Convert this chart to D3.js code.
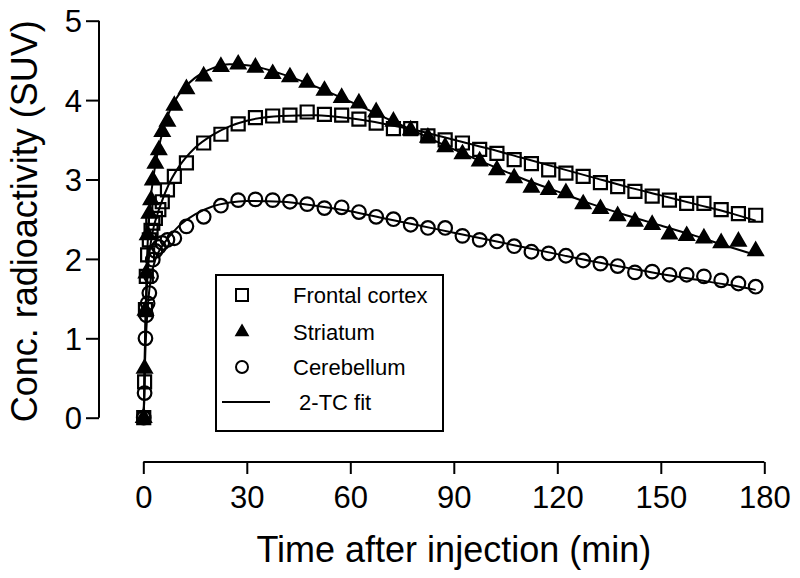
<!DOCTYPE html>
<html><head><meta charset="utf-8">
<script src="https://cdn.jsdelivr.net/npm/d3@7"></script>
<style>
html,body{margin:0;padding:0;background:#fff;}
svg{display:block;}
text{font-family:"Liberation Sans",Arial,sans-serif;fill:#000;}
</style></head>
<body>
<svg id="chart" width="800" height="578"></svg>
<script>
// ---- data ----
const frameTimes = [0.125,0.375,0.625,0.875,1.25,1.75,2.25,2.75,3.5,4.5,5.5,7,9,
  12.5,17.5,22.5,27.5,32.5,37.5,42.5,47.5,52.5,57.5,62.5,67.5,72.5,77.5,82.5,87.5,92.5,97.5,
  102.5,107.5,112.5,117.5,122.5,127.5,132.5,137.5,142.5,147.5,152.5,157.5,162.5,167.5,172.5,177.5];
const frontal = [0.0,0.45,1.36,1.78,2.05,2.24,2.36,2.45,2.51,2.62,2.72,2.87,3.04,
  3.21,3.46,3.57,3.70,3.78,3.80,3.81,3.85,3.82,3.81,3.76,3.71,3.64,3.64,3.55,3.50,3.46,3.38,
  3.33,3.25,3.20,3.12,3.08,3.04,2.96,2.91,2.85,2.79,2.74,2.70,2.70,2.62,2.57,2.55];
const striatum = [0.0,0.62,1.35,1.82,2.30,2.57,2.74,2.99,3.20,3.37,3.60,3.73,3.93,
  4.14,4.30,4.42,4.45,4.41,4.33,4.29,4.22,4.12,4.03,3.96,3.85,3.73,3.62,3.53,3.41,3.32,3.23,
  3.12,3.02,2.90,2.87,2.83,2.69,2.63,2.54,2.47,2.43,2.31,2.29,2.26,2.20,2.22,2.10];
const cerebellum = [0.0,0.31,1.00,1.29,1.44,1.57,1.78,1.99,2.10,2.15,2.20,2.24,2.26,
  2.41,2.53,2.67,2.74,2.75,2.74,2.72,2.69,2.64,2.65,2.59,2.53,2.50,2.43,2.39,2.39,2.29,2.24,
  2.22,2.16,2.09,2.07,2.04,1.98,1.94,1.91,1.83,1.84,1.80,1.80,1.78,1.73,1.69,1.65];

const fitTimes = [0,0.25,0.5,1,1.5,2,3,4,5,7.5,10,15,20,25,30,40,50,60,70,80,90,100,110,120,130,140,150,160,170,177.5];
const fitFrontal = [0,0.2,0.9,1.6,1.95,2.15,2.4,2.55,2.68,2.95,3.14,3.4,3.56,3.67,3.74,3.8,3.81,3.77,3.7,3.61,3.5,3.39,3.27,3.15,3.03,2.91,2.8,2.69,2.58,2.48];
const fitStriatum = [0,0.3,1.0,1.9,2.4,2.7,3.05,3.3,3.5,3.85,4.05,4.28,4.4,4.45,4.44,4.33,4.17,3.98,3.78,3.58,3.38,3.19,3.01,2.85,2.69,2.55,2.42,2.29,2.15,2.05];
const fitCerebellum = [0,0.2,0.7,1.2,1.5,1.7,1.92,2.05,2.13,2.28,2.4,2.56,2.66,2.71,2.73,2.72,2.67,2.6,2.51,2.42,2.33,2.24,2.15,2.06,1.97,1.89,1.81,1.74,1.67,1.61];

const xTicks = [0,30,60,90,120,150,180];
const yTicks = [0,1,2,3,4,5];
const legendLabels = ["Frontal cortex","Striatum","Cerebellum"," 2-TC fit"];
const xTitle = "Time after injection (min)";
const yTitle = "Conc. radioactivity (SUV)";

// ---- drawing ----
const svg = d3.select("#chart");
const x = d3.scaleLinear().domain([0,180]).range([143.3,764.3]);
const y = d3.scaleLinear().domain([0,5]).range([417.7,20.7]);
const xAxisY = 462;
const yAxisX = 99;

// y axis
const yAxis = d3.axisLeft(y).tickValues(yTicks).tickSize(13).tickPadding(4).tickFormat(d3.format("d"));
const gy = svg.append("g").attr("transform",`translate(${yAxisX},0)`).call(yAxis);
gy.select(".domain").attr("d",`M-0,${y(0)}V${y(5)}`).attr("stroke","#000").attr("stroke-width",2);
gy.selectAll(".tick line").attr("stroke","#000").attr("stroke-width",2);
gy.selectAll(".tick text").attr("font-size",31).attr("dy","0.36em").attr("font-family","Liberation Sans, Arial, sans-serif");

// x axis
const xAxis = d3.axisBottom(x).tickValues(xTicks).tickSize(12).tickPadding(12).tickFormat(d3.format("d"));
const gx = svg.append("g").attr("transform",`translate(0,${xAxisY})`).call(xAxis);
gx.select(".domain").attr("d",`M${x(0)},0H${x(180)}`).attr("stroke","#000").attr("stroke-width",2);
gx.selectAll(".tick line").attr("stroke","#000").attr("stroke-width",2);
gx.selectAll(".tick text").attr("font-size",31).attr("font-family","Liberation Sans, Arial, sans-serif");

// titles
svg.append("text").attr("x",(x(0)+x(180))/2).attr("y",562).attr("text-anchor","middle")
  .attr("font-size",36).text(xTitle);
svg.append("text").attr("transform",`translate(37,${(y(0)+y(5))/2 + 2}) rotate(-90)`)
  .attr("text-anchor","middle").attr("font-size",36).text(yTitle);

// markers
const sq = d3.symbol().type(d3.symbolSquare).size(13*13);
const tri = d3.symbol().type(d3.symbolTriangle).size(88);
const circ = d3.symbol().type(d3.symbolCircle).size(Math.PI*6.8*6.8);

function drawSeries(vals, sym, filled){
  svg.append("g").selectAll("path").data(vals.map((v,i)=>[frameTimes[i],v])).join("path")
    .attr("d",sym)
    .attr("transform",d=>`translate(${x(d[0])},${y(d[1])})`)
    .attr("fill",filled?"#000":"none")
    .attr("stroke","#000").attr("stroke-width",2.2);
}
drawSeries(cerebellum, circ, false);
drawSeries(frontal, sq, false);
drawSeries(striatum, tri, true);

// fits
const line = d3.line().x(d=>x(d[0])).y(d=>y(d[1])).curve(d3.curveMonotoneX);
[fitFrontal, fitStriatum, fitCerebellum].forEach(f=>{
  svg.append("path").datum(f.map((v,i)=>[fitTimes[i],v]))
    .attr("d",line).attr("fill","none").attr("stroke","#000").attr("stroke-width",2);
});

// legend
const lg = svg.append("g");
lg.append("rect").attr("x",216).attr("y",275).attr("width",227).attr("height",156)
  .attr("fill","#fff").attr("stroke","#000").attr("stroke-width",2);
const rowsY = [295,332,367,402];
const lsq = d3.symbol().type(d3.symbolSquare).size(12*12);
const ltri = d3.symbol().type(d3.symbolTriangle).size(64);
const lcirc = d3.symbol().type(d3.symbolCircle).size(Math.PI*6*6);
lg.append("path").attr("d",lsq).attr("transform",`translate(242,${rowsY[0]})`).attr("fill","none").attr("stroke","#000").attr("stroke-width",2);
lg.append("path").attr("d",ltri).attr("transform",`translate(242,${rowsY[1]})`).attr("fill","#000").attr("stroke","#000").attr("stroke-width",1.5);
lg.append("path").attr("d",lcirc).attr("transform",`translate(242,${rowsY[2]})`).attr("fill","none").attr("stroke","#000").attr("stroke-width",2);
lg.append("line").attr("x1",222).attr("x2",270).attr("y1",rowsY[3]).attr("y2",rowsY[3]).attr("stroke","#000").attr("stroke-width",2);
legendLabels.forEach((t,i)=>{
  lg.append("text").attr("x",293).attr("y",rowsY[i]+8).attr("font-size",22)
    .attr("xml:space","preserve").style("white-space","pre").text(t);
});
</script>
</body></html>
